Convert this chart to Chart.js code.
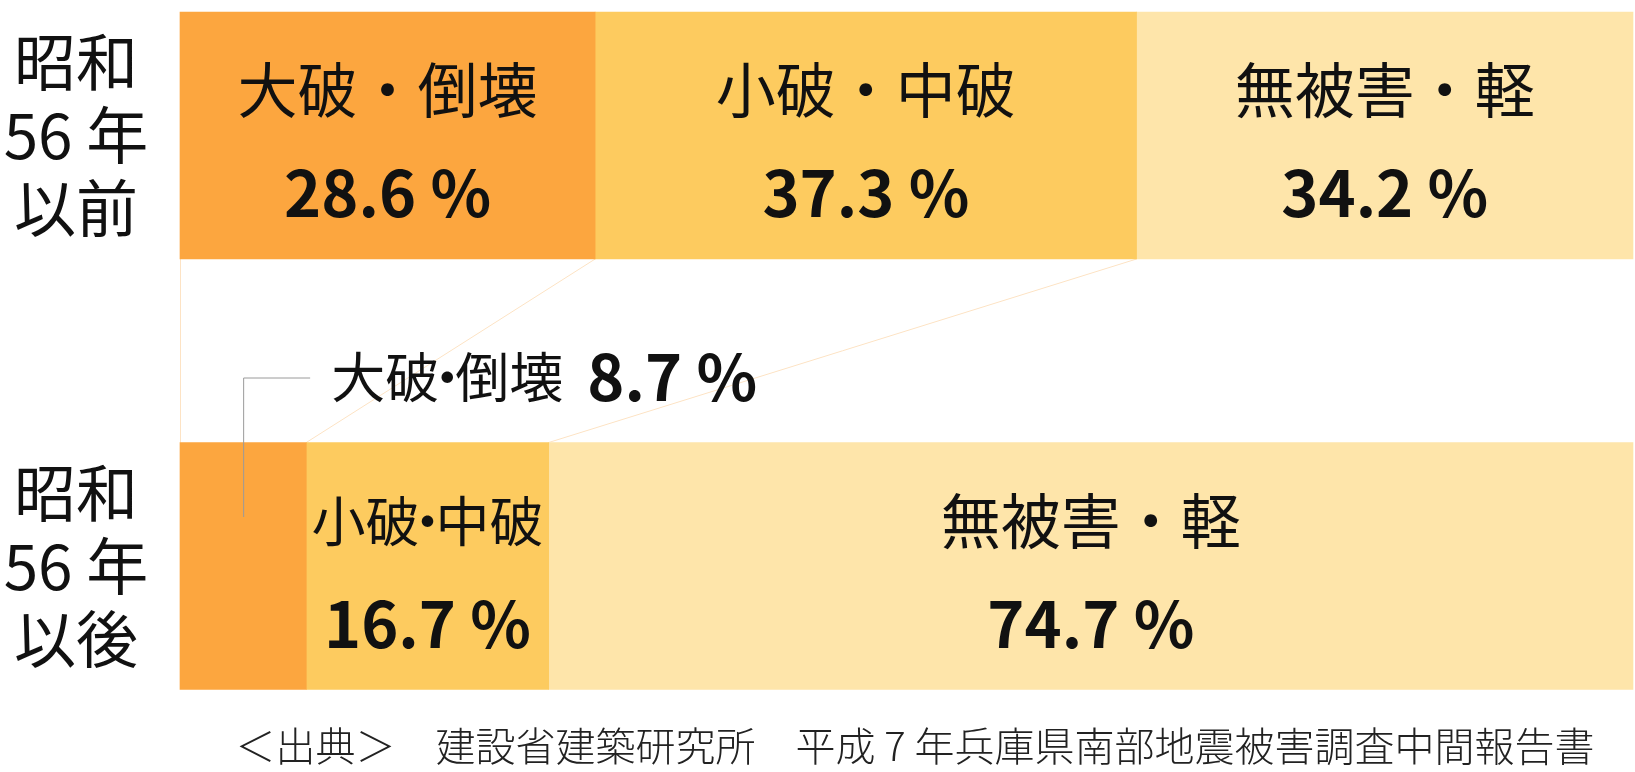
<!DOCTYPE html>
<html lang="ja">
<head>
<meta charset="utf-8">
<script src="https://cdn.jsdelivr.net/npm/chart.js@4.4.1/dist/chart.umd.min.js"></script>
<style>
  html, body { margin: 0; padding: 0; background: #fff; }
  #wrap { width: 1635px; height: 772px; position: relative; }
</style>
</head>
<body>
<div id="wrap"><canvas id="chart"></canvas></div>
<script>
// data
const periods = [['昭和', '56 年', '以前'], ['昭和', '56 年', '以後']];
const seriesNames = ['大破・倒壊', '小破・中破', '無被害・軽'];
const collapsed = [28.6, 8.7];
const moderate = [37.3, 16.7];
const slight = [34.2, 74.7];
const seriesColors = ['#fca63f', '#fdcb5f', '#fee5aa'];
const sourceNote = '＜出典＞　建設省建築研究所　平成 7 年兵庫県南部地震被害調査中間報告書';

const FONT = '"Noto Sans CJK JP", "Noto Sans", sans-serif';

function props(el) {
  return el.getProps(['x', 'y', 'base', 'height'], true);
}

// name with a tight middle dot, as in the narrow segments
function compactWidth(ctx, text, size) {
  const [l, r] = text.split('・');
  return ctx.measureText(l).width + size * 0.3 + ctx.measureText(r).width;
}
function drawCompact(ctx, text, x, y, size) {
  const [l, r] = text.split('・');
  const wl = ctx.measureText(l).width;
  const dw = size * 0.3;
  ctx.save();
  ctx.textAlign = 'left';
  ctx.fillText(l, x, y);
  ctx.textAlign = 'center';
  ctx.fillText('・', x + wl + dw / 2, y);
  ctx.textAlign = 'left';
  ctx.fillText(r, x + wl + dw, y);
  ctx.restore();
}

const overlay = {
  id: 'overlay',
  beforeDatasetsDraw(chart) {
    // faint guide lines joining the two bars
    const ctx = chart.ctx;
    ctx.save();
    ctx.strokeStyle = '#fde3c4';
    ctx.lineWidth = 1;
    for (let d = 0; d < 2; d++) {
      const meta = chart.getDatasetMeta(d);
      const a = props(meta.data[0]), b = props(meta.data[1]);
      ctx.beginPath();
      ctx.moveTo(a.x, a.y + a.height / 2);
      ctx.lineTo(b.x, b.y - b.height / 2);
      ctx.stroke();
    }
    const a = props(chart.getDatasetMeta(0).data[0]);
    const b = props(chart.getDatasetMeta(0).data[1]);
    ctx.beginPath();
    ctx.moveTo(a.base + 0.5, a.y + a.height / 2);
    ctx.lineTo(a.base + 0.5, b.y - b.height / 2);
    ctx.stroke();
    ctx.restore();
  },
  afterDatasetsDraw(chart) {
    const ctx = chart.ctx;
    const yScale = chart.scales.y;
    ctx.save();
    ctx.fillStyle = '#111';
    ctx.textBaseline = 'middle';
    ctx.textAlign = 'center';

    // period labels on the left
    ctx.font = '400 62px ' + FONT;
    periods.forEach((lines, i) => {
      const cy = yScale.getPixelForValue(i);
      lines.forEach((t, k) => ctx.fillText(t, 76, cy + (k - 1) * 73));
    });

    const valFont = '600 63px ' + FONT;
    const small = 54;

    // segment labels
    chart.data.datasets.forEach((ds, d) => {
      const meta = chart.getDatasetMeta(d);
      meta.data.forEach((el, i) => {
        const p = props(el);
        const w = Math.abs(p.x - p.base);
        const cx = (p.x + p.base) / 2;
        const val = ds.data[i].toFixed(1) + ' %';
        if (w < 200) {
          // callout above the bar
          const ly = p.y - p.height / 2 - 65;
          ctx.save();
          ctx.strokeStyle = '#9a9a9a';
          ctx.lineWidth = 1;
          ctx.beginPath();
          ctx.moveTo(cx + 0.5, p.y - 49);
          ctx.lineTo(cx + 0.5, ly + 0.5);
          ctx.lineTo(cx + 67, ly + 0.5);
          ctx.stroke();
          ctx.restore();
          ctx.font = '400 ' + small + 'px ' + FONT;
          const x0 = cx + 88;
          drawCompact(ctx, ds.label, x0, ly, small);
          const nw = compactWidth(ctx, ds.label, small);
          ctx.font = valFont;
          ctx.textAlign = 'left';
          ctx.fillText(val, x0 + nw + 24, ly);
          ctx.textAlign = 'center';
          return;
        }
        if (w < 300) {
          ctx.font = '400 ' + small + 'px ' + FONT;
          const nw = compactWidth(ctx, ds.label, small);
          drawCompact(ctx, ds.label, cx - nw / 2, p.y - 45, small);
        } else {
          ctx.font = '400 60px ' + FONT;
          ctx.fillText(ds.label, cx, p.y - 45);
        }
        ctx.font = valFont;
        ctx.fillText(val, cx, p.y + 58);
      });
    });

    // source note
    ctx.font = '300 40px ' + FONT;
    ctx.fillStyle = '#222';
    ctx.fillText(sourceNote, 915, 746);
    ctx.restore();
  }
};

new Chart(document.getElementById('chart'), {
  type: 'bar',
  data: {
    labels: periods.map(l => l.join('')),
    datasets: [collapsed, moderate, slight].map((vals, i) => ({
      label: seriesNames[i],
      data: vals,
      backgroundColor: seriesColors[i],
      borderWidth: 0,
      barThickness: 247,
      clip: false
    }))
  },
  options: {
    indexAxis: 'y',
    responsive: true,
    maintainAspectRatio: false,
    animation: false,
    layout: { padding: { left: 180, right: 2, top: 135.5, bottom: 206 } },
    plugins: { legend: { display: false }, tooltip: { enabled: false } },
    scales: {
      x: { stacked: true, min: 0, max: 100.1, display: false },
      y: { stacked: true, offset: false, display: false }
    }
  },
  plugins: [overlay]
});
</script>
</body>
</html>
